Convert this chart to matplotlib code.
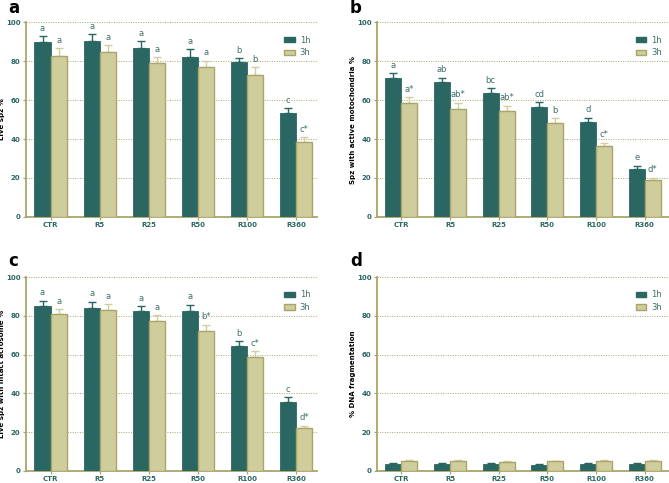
import matplotlib
matplotlib.use("Agg")
import matplotlib.pyplot as plt
import numpy as np
from matplotlib.patches import Patch

groups = ["CTR", "R5", "R25", "R50", "R100", "R360"]

# Panel a: Live spz %
a_1h = [89.7, 90.6, 86.8, 82.3, 79.6, 53.3]
a_1h_err = [3.1, 3.2, 3.4, 3.8, 1.9, 2.4]
a_3h = [82.8, 84.9, 79.1, 76.8, 72.7, 38.6]
a_3h_err = [3.8, 3.3, 2.9, 3.5, 4.1, 2.2]
a_lab_1h = ["a", "a", "a", "a", "b", "c"]
a_lab_3h = ["a", "a", "a", "a", "b", "c*"]

# Panel b: Spz with active mitochondria %
b_1h = [71.4, 69.2, 63.6, 56.6, 48.5, 24.5]
b_1h_err = [2.3, 2.2, 2.4, 2.2, 2.3, 1.7]
b_3h = [58.3, 55.3, 54.4, 48.0, 36.4, 18.7]
b_3h_err = [3.1, 3.2, 2.6, 2.6, 1.8, 1.5]
b_lab_1h = ["a", "ab", "bc", "cd", "d", "e"]
b_lab_3h = ["a*", "ab*", "ab*", "b", "c*", "d*"]

# Panel c: Live spz with intact acrosome %
c_1h = [85.0, 84.0, 82.6, 82.6, 64.5, 35.7]
c_1h_err = [2.6, 3.1, 2.2, 2.9, 2.4, 2.2]
c_3h = [80.7, 82.8, 77.2, 72.2, 58.6, 22.1]
c_3h_err = [2.7, 3.1, 3.1, 3.0, 3.1, 1.3]
c_lab_1h = ["a", "a", "a", "a", "b", "c"]
c_lab_3h = ["a", "a", "a", "b*", "c*", "d*"]

# Panel d: % DNA fragmentation
d_1h = [3.5, 3.8, 3.5, 3.2, 3.6, 3.7]
d_1h_err = [0.4, 0.4, 0.4, 0.3, 0.4, 0.3]
d_3h = [5.2, 5.0, 4.8, 4.9, 5.3, 5.0]
d_3h_err = [0.5, 0.4, 0.4, 0.4, 0.5, 0.4]

yticks = [0, 20, 40, 60, 80, 100]

TEAL = "#2b6762"
KHAKI = "#d0cd9d"
OLIVE = "#a9a56a"
ERR3 = "#d2cf9f"
LETTER = "#3f6f6b"

fig = plt.figure(figsize=(6.69, 4.83), dpi=100)

panels = [
    ("a", [0.039, 0.551, 0.435, 0.403], a_1h, a_1h_err, a_3h, a_3h_err, a_lab_1h, a_lab_3h, "Live spz %", 5.43, (0.012, 0.965)),
    ("b", [0.5635, 0.551, 0.4365, 0.403], b_1h, b_1h_err, b_3h, b_3h_err, b_lab_1h, b_lab_3h, "Spz with active motochondria %", 5.5, (0.523, 0.965)),
    ("c", [0.039, 0.025, 0.435, 0.4015], c_1h, c_1h_err, c_3h, c_3h_err, c_lab_1h, c_lab_3h, "Live spz with intact acrosome %", 5.43, (0.012, 0.44)),
    ("d", [0.5635, 0.025, 0.4365, 0.4015], d_1h, d_1h_err, d_3h, d_3h_err, None, None, "% DNA fragmentation", 5.5, (0.523, 0.44)),
]

w = 0.33
x = np.arange(len(groups))

for letter, rect, v1, e1, v3, e3, l1, l3, ylabel, xmax, lpos in panels:
    ax = fig.add_axes(rect)
    ax.set_ylim(0, 100)
    ax.set_xlim(-0.5, xmax)
    for y in yticks[1:]:
        ax.axhline(y, color=OLIVE, lw=0.7, ls=(0, (1, 1.5)), zorder=0)
    ax.bar(x - w / 2, v1, width=w, color=TEAL, edgecolor=TEAL, linewidth=0.6, zorder=3,
           yerr=[np.zeros(len(v1)), e1], error_kw=dict(ecolor=TEAL, capsize=3.2, elinewidth=1.0, capthick=1.0, zorder=2))
    ax.bar(x + w / 2, v3, width=w, color=KHAKI, edgecolor=OLIVE, linewidth=1.0, zorder=3,
           yerr=[np.zeros(len(v3)), e3], error_kw=dict(ecolor=ERR3, capsize=3.2, elinewidth=1.0, capthick=1.0, zorder=2))
    if l1 is not None:
        for i in range(len(groups)):
            ax.text(x[i] - w / 2, v1[i] + e1[i] + 4.2, l1[i], ha="center", va="center",
                    fontsize=6, color=LETTER, zorder=5)
            ax.text(x[i] + w / 2, v3[i] + e3[i] + 4.2, l3[i], ha="center", va="center",
                    fontsize=6, color=LETTER, zorder=5)
    for s in ["top", "right"]:
        ax.spines[s].set_visible(False)
    for s in ["left", "bottom"]:
        ax.spines[s].set_color(OLIVE)
        ax.spines[s].set_linewidth(1.3)
    ax.set_yticks(yticks)
    ax.set_yticklabels([str(t) for t in yticks])
    ax.set_xticks(x)
    ax.set_xticklabels(groups)
    ax.tick_params(axis="y", colors=OLIVE, length=2.5, width=0.9, labelsize=5, pad=1.5)
    ax.tick_params(axis="x", colors=OLIVE, length=2.5, width=0.9, labelsize=5, pad=1.5)
    for lab in ax.get_yticklabels() + ax.get_xticklabels():
        lab.set_color(TEAL)
        lab.set_fontweight("bold")
    ax.set_ylabel(ylabel, fontsize=5, fontweight="bold", color="black")
    ax.yaxis.set_label_coords(-0.072, 0.5)
    handles = [Patch(facecolor=TEAL, edgecolor=TEAL, label="1h"),
               Patch(facecolor=KHAKI, edgecolor=OLIVE, label="3h")]
    leg = ax.legend(handles=handles, loc="upper left", bbox_to_anchor=(0.86, 0.97), frameon=False,
                    fontsize=6, handlelength=1.3, handleheight=0.6, labelspacing=0.45, handletextpad=0.6)
    for t in leg.get_texts():
        t.set_color(LETTER)
    fig.text(lpos[0], lpos[1], letter, fontsize=12, fontweight="bold", ha="left", va="bottom")

fig.savefig("out.png", dpi=100)
